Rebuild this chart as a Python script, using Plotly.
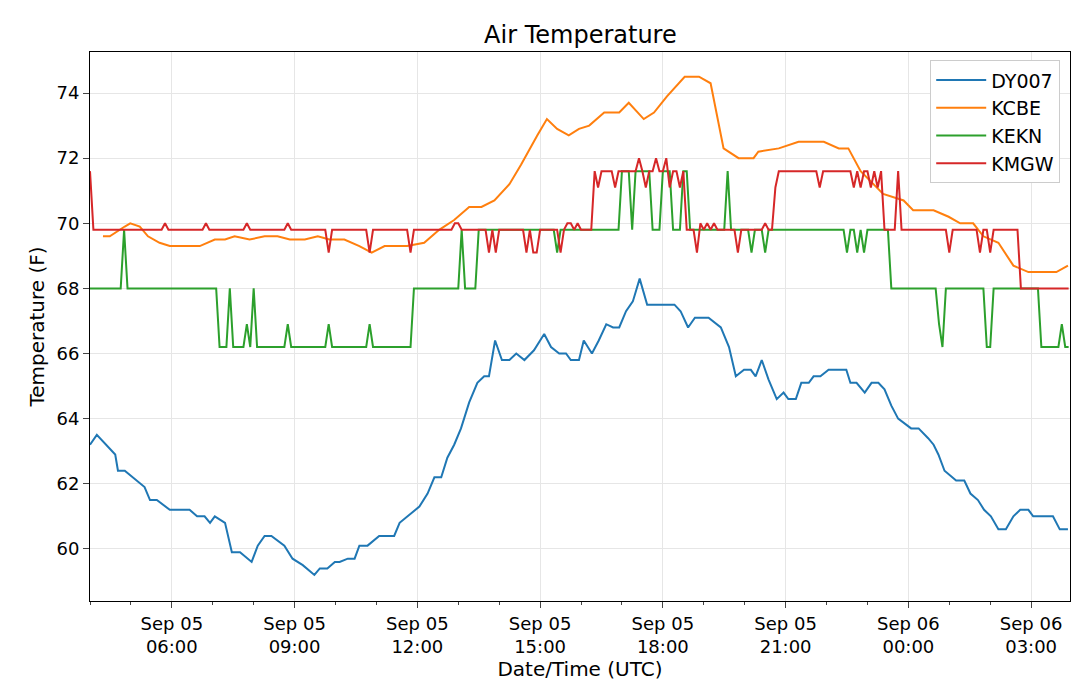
import plotly.graph_objects as go
from datetime import datetime, timedelta

START = datetime(2017, 9, 5, 4, 0)

# minutes after 04:00 UTC, values (F)
dy_t = [0,10,37,41,51,80,88,98,117,146,157,168,176,183,198,208,220,237,246,256,266,285,297,312,329,337,348,359,366,378,388,395,407,424,446,454,483,495,505,515,524,534,544,556,568,578,585,594,604,615,625,637,651,666,676,688,698,705,717,724,736,746,757,767,776,786,796,806,817,857,866,877,887,907,925,937,947,959,969,976,985,995,1007,1017,1024,1035,1043,1054,1061,1071,1083,1109,1115,1124,1136,1146,1156,1165,1175,1185,1204,1215,1229,1237,1244,1253,1270,1282,1291,1302,1311,1321,1332,1343,1354,1364,1376,1383,1412,1422,1434]
dy_v = [63.2,63.5,62.9,62.4,62.4,61.9,61.5,61.5,61.2,61.2,61.0,61.0,60.8,61.0,60.8,59.9,59.9,59.6,60.1,60.4,60.4,60.1,59.7,59.5,59.2,59.4,59.4,59.6,59.6,59.7,59.7,60.1,60.1,60.4,60.4,60.8,61.3,61.7,62.2,62.2,62.8,63.2,63.7,64.5,65.1,65.3,65.3,66.4,65.8,65.8,66.0,65.8,66.1,66.6,66.2,66.0,66.0,65.8,65.8,66.4,66.0,66.4,66.9,66.8,66.8,67.3,67.6,68.3,67.5,67.5,67.3,66.8,67.1,67.1,66.8,66.2,65.3,65.5,65.5,65.3,65.8,65.2,64.6,64.8,64.6,64.6,65.1,65.1,65.3,65.3,65.5,65.5,65.1,65.1,64.8,65.1,65.1,64.9,64.4,64.0,63.7,63.7,63.4,63.2,62.9,62.4,62.1,62.1,61.7,61.5,61.2,61.0,60.6,60.6,61.0,61.2,61.2,61.0,61.0,60.6,60.6]

cb_t = [19,29,51,59,73,85,102,117,161,183,198,212,234,256,275,293,315,334,351,373,395,413,432,465,490,512,534,556,574,593,615,632,656,670,685,702,717,732,754,776,790,812,827,846,872,893,910,929,951,973,980,1010,1039,1076,1098,1112,1130,1149,1163,1193,1207,1237,1259,1276,1295,1310,1332,1354,1376,1417,1434]
cb_v = [69.6,69.6,69.9,70.0,69.9,69.6,69.4,69.3,69.3,69.5,69.5,69.6,69.5,69.6,69.6,69.5,69.5,69.6,69.5,69.5,69.3,69.1,69.3,69.3,69.4,69.8,70.1,70.5,70.5,70.7,71.2,71.8,72.7,73.2,72.9,72.7,72.9,73.0,73.4,73.4,73.7,73.2,73.4,73.9,74.5,74.5,74.3,72.3,72.0,72.0,72.2,72.3,72.5,72.5,72.3,72.3,71.6,71.2,70.9,70.7,70.4,70.4,70.2,70.0,70.0,69.6,69.4,68.7,68.5,68.5,68.7]

ek_steps = [(0,68),(190,66.2),(471,68),(569,69.8),(779,71.6),(791,69.8),(797,71.6),(821,69.8),(838,71.6),(854,69.8),(869,71.6),(876,69.8),(1173,68),(1241,66.2),(1253,68),(1312,66.2),(1322,68),(1393,66.2)]
ek_spikes = [(48,69.8),(206,68),(230,66.9),(238,68),(290,66.9),(349,66.9),(409,66.9),(543,69.8),(685,69.1),(935,71.6),(970,69.1),(990,69.1),(1110,69.1),(1125,69.1),(1135,69.1),(1245,66.9),(1425,66.9)]

mg_steps = [(0,71.6),(5,69.8),(737,71.6),(873,69.8),(1002,71.6),(1163,69.8),(1364,68)]
mg_spikes = [(111,70.0),(171,70.0),(231,70.0),(291,70.0),(350,69.1),(408,69.1),(470,69.1),(533,70.0),(542,70.0),(587,69.1),(596,69.1),(640,69.1),(650,69.1),(655,69.1),(688,69.1),(698,70.0),(707,70.0),(716,70.0),(746,71.1),(768,71.1),(805,72.0),(816,71.1),(828,72.0),(843,72.0),(852,71.1),(863,71.1),(888,69.1),(897,70.0),(905,70.0),(915,70.0),(948,69.1),(990,70.0),(1006,71.1),(1068,71.1),(1120,71.1),(1128,71.1),(1145,71.1),(1156,71.1),(1184,71.6),(1259,69.1),(1303,69.1),(1319,69.1)]

def sampled(steps, spikes, end=1435, dt=5):
    ts = list(range(0, end + 1, dt))
    vals = []
    for t in ts:
        v = steps[0][1]
        for s, lv in steps:
            if t >= s:
                v = lv
        vals.append(v)
    for st, sv in spikes:
        i = min(range(len(ts)), key=lambda k: abs(ts[k] - st))
        vals[i] = sv
    return ts, vals

def tt(mins):
    return [START + timedelta(minutes=m) for m in mins]

ek_t, ek_v = sampled(ek_steps, ek_spikes)
mg_t, mg_v = sampled(mg_steps, mg_spikes)

fig = go.Figure()
for name, t, v, c in [("DY007", dy_t, dy_v, "#1f77b4"), ("KCBE", cb_t, cb_v, "#ff7f0e"),
                      ("KEKN", ek_t, ek_v, "#2ca02c"), ("KMGW", mg_t, mg_v, "#d62728")]:
    fig.add_trace(go.Scatter(x=tt(t), y=v, name=name, mode="lines",
                             line=dict(color=c, width=2)))

tickvals = [START + timedelta(hours=2 + 3 * i) for i in range(8)]
ticktext = [d.strftime("%b %d") + "<br>" + d.strftime("%H:%M") for d in tickvals]

fig.update_layout(
    width=1080, height=692, paper_bgcolor="white", plot_bgcolor="white",
    font=dict(family="DejaVu Sans", size=18, color="black"),
    title=dict(text="Air Temperature", x=0.53, xanchor="center", y=1 - 27 / 692, yanchor="middle",
               font=dict(size=24)),
    margin=dict(l=82, r=18, t=44, b=99, autoexpand=False),
    legend=dict(x=0.99, y=0.985, xanchor="right", yanchor="top", bgcolor="white",
                bordercolor="#cccccc", borderwidth=1, font=dict(size=19), itemwidth=50,
                tracegroupgap=4),
    showlegend=True,
)
fig.update_xaxes(range=[START, START + timedelta(minutes=1437)], tickvals=tickvals, ticktext=ticktext,
                 ticks="outside", ticklen=6, showgrid=True, gridcolor="#e6e6e6", automargin=False,
                 showline=True, linecolor="black", mirror=True,
                 minor=dict(dtick=3600000, ticks="outside", ticklen=3, showgrid=False),
                 title=dict(text="Date/Time (UTC)", font=dict(size=20), standoff=2))
fig.update_yaxes(range=[58.4, 75.26], tickvals=[60, 62, 64, 66, 68, 70, 72, 74],
                 ticks="outside", ticklen=6, showgrid=True, gridcolor="#e6e6e6", automargin=False,
                 showline=True, linecolor="black", mirror=True, zeroline=False,
                 title=dict(text="Temperature (F)", font=dict(size=20), standoff=6))
fig.write_html("out.html")
